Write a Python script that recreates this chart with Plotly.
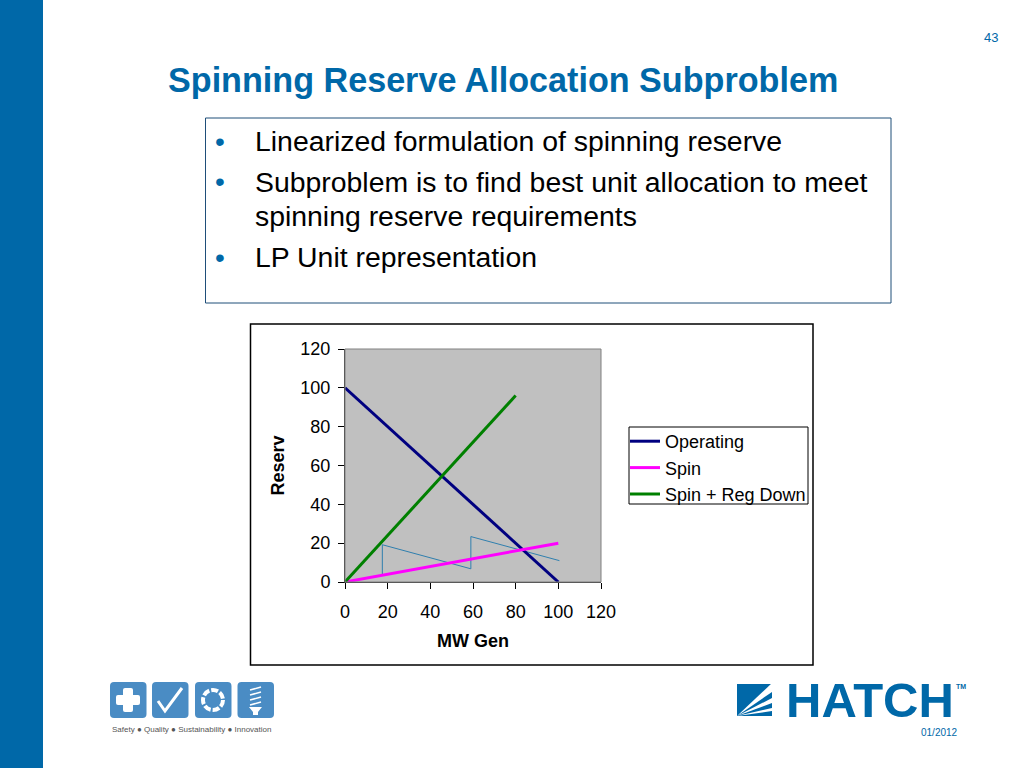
import plotly.graph_objects as go

# ---- data ----
mw_operating = [0, 100]
operating = [100, 0]
mw_spin = [0, 100]
spin = [0, 20]
mw_spin_reg = [0, 60, 80]
spin_reg = [0, 72, 96]
mw_thin = [17.5, 17.5, 59, 59, 100.5]
thin = [3.4, 19.2, 6.8, 23.4, 11]
tick_vals = [0, 20, 40, 60, 80, 100, 120]
title_text = "Spinning Reserve Allocation Subproblem"
bullets = [
    ("•", "Linearized formulation of spinning reserve", 141),
    ("•", "Subproblem is to find best unit allocation to meet", 182),
    ("", "spinning reserve requirements", 216),
    ("•", "LP Unit representation", 257),
]

W, H = 1024, 768
BLUE = "#0068A8"
TILE = "#4A8CC4"
FONT = "Liberation Sans"

def X(p): return p / W
def Y(p): return 1 - p / H

def rect(x0, y0, x1, y1, fill=None, line=None, lw=1, layer="below"):
    return dict(type="rect", xref="paper", yref="paper", x0=X(x0), y0=Y(y0), x1=X(x1), y1=Y(y1),
                fillcolor=fill or "rgba(0,0,0,0)", line=dict(color=line or "rgba(0,0,0,0)", width=lw if line else 0), layer=layer)

def poly(points, fill=None, line=None, lw=1, close=True, layer="above"):
    d = "M " + " L ".join(f"{X(a):.5f},{Y(b):.5f}" for a, b in points) + (" Z" if close else "")
    return dict(type="path", xref="paper", yref="paper", path=d,
                fillcolor=fill or "rgba(0,0,0,0)", line=dict(color=line or "rgba(0,0,0,0)", width=lw if line else 0), layer=layer)

def rounded(x0, y0, x1, y1, r, fill):
    P = lambda a, b: f"{X(a):.5f},{Y(b):.5f}"
    d = (f"M {P(x0+r,y0)} L {P(x1-r,y0)} Q {P(x1,y0)} {P(x1,y0+r)} L {P(x1,y1-r)} Q {P(x1,y1)} {P(x1-r,y1)} "
         f"L {P(x0+r,y1)} Q {P(x0,y1)} {P(x0,y1-r)} L {P(x0,y0+r)} Q {P(x0,y0)} {P(x0+r,y0)} Z")
    return dict(type="path", xref="paper", yref="paper", path=d, fillcolor=fill, line=dict(width=0), layer="above")

def circle(cx, cy, r, line, lw, dash="solid"):
    return dict(type="circle", xref="paper", yref="paper", x0=X(cx-r), x1=X(cx+r), y0=Y(cy+r), y1=Y(cy-r),
                fillcolor="rgba(0,0,0,0)", line=dict(color=line, width=lw, dash=dash), layer="above")

def note(x, y, text, size, color="#000", xanchor="left", yanchor="middle", bold=False, angle=0):
    return dict(xref="paper", yref="paper", x=X(x), y=Y(y), text=f"<b>{text}</b>" if bold else text,
                showarrow=False, xanchor=xanchor, yanchor=yanchor, textangle=angle,
                font=dict(family=FONT, size=size, color=color), borderpad=0, borderwidth=0)

shapes = [
    rect(0, 0, 43, 768, fill=BLUE),
    rect(205.5, 118, 891, 303, line="#1F4E79", lw=1),
    rect(250.5, 324, 813, 665, line="#000000", lw=1.5),
    rect(345, 349, 601, 582, line="#808080", lw=1, layer="above"),
    rect(629, 427, 808, 504, fill="#fff", line="#000000", lw=1),
]

for x0 in (110, 152, 195, 237.5):
    shapes.append(rounded(x0, 682, x0 + 36.5, 718, 4, TILE))
shapes += [
    rounded(123, 688, 133, 712, 2, "#fff"),
    rounded(116, 695, 140, 705, 2, "#fff"),
    poly([(158, 701), (165, 711), (182, 688)], line="#fff", lw=3, close=False),
    circle(213, 700, 10, "#fff", 4, "7px,2px"),
    poly([(250, 690), (261, 687)], line="#fff", lw=1.5, close=False),
    poly([(250, 695), (261, 692)], line="#fff", lw=1.5, close=False),
    poly([(250, 700), (261, 697)], line="#fff", lw=1.5, close=False),
    poly([(250, 705), (261, 702)], line="#fff", lw=1.5, close=False),
    poly([(249, 707), (262, 707), (258, 712), (258, 715), (253, 715), (253, 712)], fill="#fff"),
]
shapes += [
    rect(737, 684, 772, 716, fill=BLUE, layer="above"),
    poly([(737, 716), (772, 683), (772, 692)], fill="#fff"),
    poly([(737, 716), (772, 698), (772, 703)], fill="#fff"),
    poly([(737, 716), (772, 708), (772, 711)], fill="#fff"),
]

annotations = [
    note(168, 80, title_text, 34.15, BLUE, bold=True),
    note(991, 38, "43", 13, BLUE, xanchor="center"),
    note(786, 700, "HATCH", 49, BLUE, bold=True),
    note(956, 686, "TM", 7, BLUE, bold=True),
    note(921, 732, "01/2012", 10, BLUE),
    note(112, 729, "Safety ● Quality ● Sustainability ● Innovation", 8, "#555555"),
]
for mark, text, y in bullets:
    if mark:
        annotations.append(note(215, y, mark, 28, BLUE))
    annotations.append(note(255, y, text, 28.4))

fig = go.Figure()
fig.add_trace(go.Scatter(x=mw_thin, y=thin, mode="lines", showlegend=False,
                         line=dict(color="#2F7FAE", width=1)))
fig.add_trace(go.Scatter(x=mw_operating, y=operating, mode="lines", name="Operating",
                         line=dict(color="#000080", width=3)))
fig.add_trace(go.Scatter(x=mw_spin, y=spin, mode="lines", name="Spin",
                         line=dict(color="#FF00FF", width=3)))
fig.add_trace(go.Scatter(x=mw_spin_reg, y=spin_reg, mode="lines", name="Spin + Reg Down",
                         line=dict(color="#008000", width=3)))

axis = dict(range=[0, 120], tickvals=tick_vals, ticks="outside", ticklen=6, tickcolor="#000", tickwidth=1,
            showgrid=False, zeroline=False, showline=True, linecolor="#333", linewidth=1,
            tickfont=dict(family=FONT, size=18, color="#000"))

fig.update_layout(
    width=W, height=H, autosize=False,
    margin=dict(l=0, r=0, t=0, b=0, pad=0, autoexpand=False),
    paper_bgcolor="#fff", plot_bgcolor="#C0C0C0",
    xaxis=dict(domain=[X(345), X(601)], automargin=False, ticklabelstandoff=7,
               title=dict(text="<b>MW Gen</b>", standoff=13, font=dict(family=FONT, size=18, color="#000")), **axis),
    yaxis=dict(domain=[Y(582), Y(349)], automargin=False, ticklabelstandoff=4,
               title=dict(text="<b>Reserv</b>", standoff=11, font=dict(family=FONT, size=18, color="#000")), **axis),
    legend=dict(x=X(625), y=Y(423), xanchor="left", yanchor="top", bgcolor="rgba(0,0,0,0)",
                borderwidth=0, font=dict(family=FONT, size=18, color="#000"), itemwidth=30),
    shapes=shapes, annotations=annotations,
)

fig.write_html("out.html", config=dict(displayModeBar=False),
               post_script="document.body.style.margin='0';")
